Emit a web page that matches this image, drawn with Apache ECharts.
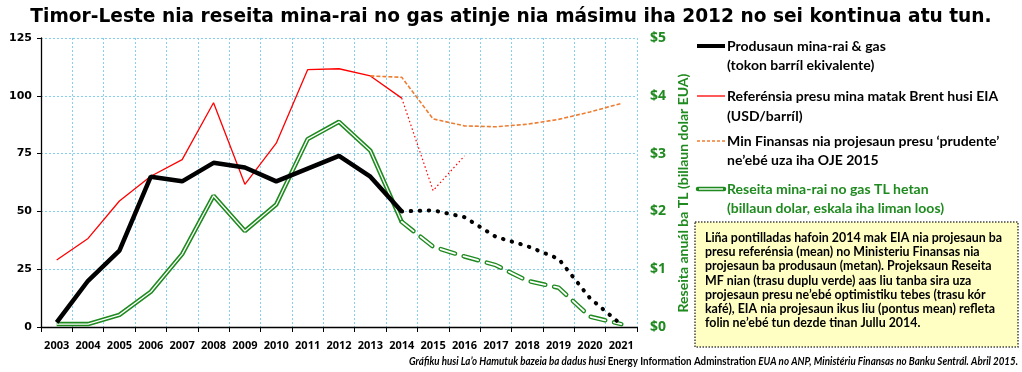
<!DOCTYPE html>
<html>
<head>
<meta charset="utf-8">
<script src="https://cdn.jsdelivr.net/npm/echarts@6/dist/echarts.min.js"></script>
<style>
html,body{margin:0;padding:0;background:#fff;}
#chart{width:1022px;height:372px;}
</style>
</head>
<body>
<div id="chart"></div>
<script>
const years = ['2003','2004','2005','2006','2007','2008','2009','2010','2011','2012','2013','2014','2015','2016','2017','2018','2019','2020','2021'];
const leftTicks = [0,25,50,75,100,125];
const rightTicks = ['$0','$1','$2','$3','$4','$5'];
// Production (million barrels oil equivalent)
const prodHist = [2,20,33,65,63,71,69,63,68.5,74,65,50,null,null,null,null,null,null,null];
const prodProj = [null,null,null,null,null,null,null,null,null,null,null,50,50.5,47.5,39,35,29.5,12.5,1];
// Brent reference price (USD/barrel)
const brentHist = [29,38.3,54.5,65.2,72.4,97,61.7,79.5,111.3,111.7,108.6,99,null,null,null,null,null,null,null];
const brentProj = [null,null,null,null,null,null,null,null,null,null,null,99,59,74,null,null,null,null,null];
// Ministry of Finance 'prudent' price projection
const mofPrice = [null,null,null,null,null,null,null,null,null,null,108.6,108,90,87,86.6,87.7,89.8,93,96.7];
// Petroleum revenue (billion USD, right axis)
const revHist = [0.05,0.05,0.21,0.61,1.26,2.27,1.66,2.12,3.25,3.55,3.05,1.82,null,null,null,null,null,null,null];
const revProj = [null,null,null,null,null,null,null,null,null,null,null,1.82,1.39,1.22,1.07,0.80,0.68,0.18,0.05];

const legendLines = [
  ['Produsaun mina-rai & gas','(tokon barríl ekivalente)'],
  ['Referénsia presu mina matak Brent husi EIA','(USD/barríl)'],
  ['Min Finansas nia projesaun presu \u2018prudente\u2019','ne\u2019ebé uza iha OJE 2015'],
  ['Reseita mina-rai no gas TL hetan','(billaun dolar, eskala iha liman loos)']
];
const noteLines = [
  'Liña pontilladas hafoin 2014 mak EIA nia projesaun ba',
  'presu referénsia (mean) no Ministeriu Finansas nia',
  'projesaun ba produsaun (metan). Projeksaun Reseita',
  'MF nian (trasu duplu verde) aas liu tanba sira uza',
  'projesaun presu ne\u2019ebé optimistiku tebes (trasu kór',
  'kafé), EIA nia projesaun ikus liu (pontus mean) refleta',
  'folin ne\u2019ebé tun dezde tinan Jullu 2014.'
];
const titleText = 'Timor-Leste nia reseita mina-rai no gas atinje nia másimu iha 2012 no sei kontinua atu tun.';
const rightAxisName = 'Reseita anuál ba TL (billaun dolar EUA)';
const footParts = [
  ['i','Gráfiku husi La\u2019o Hamutuk bazeia ba dadus husi '],
  ['n','Energy Information Adminstration'],
  ['i',' EUA no ANP, Ministériu Finansas no Banku Sentrál. Abril 2015.']
];

const GREEN = '#1f8a1f';
const GRIDC = '#86cfee';
const chart = echarts.init(document.getElementById('chart'), null, {renderer:'canvas'});

// measure footnote to fit its width in the reference layout
const FOOT_I = 'italic bold 12px Lato';
const FOOT_N = 'bold 12px Lato';
const mctx = document.createElement('canvas').getContext('2d');
let footW = 0;
footParts.forEach(p => { mctx.font = p[0]==='i'?FOOT_I:FOOT_N; footW += mctx.measureText(p[1]).width; });
const footScale = 609 / footW;

const legendY = [[46,65],[96,116],[141,160],[189,208]];
const graphics = [];
graphics.push({type:'line', shape:{x1:697,y1:46,x2:725,y2:46}, style:{stroke:'#000', lineWidth:4}});
graphics.push({type:'line', shape:{x1:697,y1:96,x2:725,y2:96}, style:{stroke:'#ff0000', lineWidth:1.3}});
graphics.push({type:'line', shape:{x1:697,y1:141,x2:725,y2:141}, style:{stroke:'#ed7d31', lineWidth:1.6, lineDash:[3,2]}});
graphics.push({type:'line', shape:{x1:698,y1:189,x2:724,y2:189}, style:{stroke:GREEN, lineWidth:4.5, lineCap:'round'}});
graphics.push({type:'line', shape:{x1:699,y1:189,x2:723,y2:189}, style:{stroke:'#fff', lineWidth:1.4}});
legendLines.forEach((pair, i) => {
  pair.forEach((t, j) => {
    graphics.push({type:'text', x:727, y:legendY[i][j], style:{text:t, fill: i===3?GREEN:'#000', font:'bold 14px Lato', textVerticalAlign:'middle'}});
  });
});
// right axis title (rotated)
graphics.push({type:'text', x:683, y:193, rotation:Math.PI/2, style:{text:rightAxisName, fill:GREEN, font:'bold 14px Lato', align:'center', verticalAlign:'middle'}});
graphics.push({type:'rect', shape:{x:695,y:222,width:323,height:125}, style:{fill:'#ffffc4', stroke:'#444', lineWidth:1.5, lineDash:[1.5,1.5]}});
noteLines.forEach((t, i) => {
  graphics.push({type:'text', x:705, y:238 + i*14.2, style:{text:t, fill:'#000', font:'bold 12.4px Lato', textVerticalAlign:'middle'}});
});
graphics.push({type:'text', x:1018, y:361, scaleX:footScale, style:{
  text: footParts.map(p => '{' + p[0] + '|' + p[1] + '}').join(''),
  align:'right', verticalAlign:'middle',
  rich:{
    i:{fontStyle:'italic', fontWeight:'bold', fontSize:12, fontFamily:'Lato', fill:'#000'},
    n:{fontStyle:'normal', fontWeight:'bold', fontSize:12, fontFamily:'Lato', fill:'#000'}
  }
}});

const option = {
  animation:false,
  backgroundColor:'#fff',
  title:{text:titleText, left:'center', top:3, textStyle:{fontFamily:'DejaVu Sans', fontWeight:'bold', fontSize:18.6, color:'#000'}},
  grid:{left:41, right:385, top:38, bottom:45, containLabel:false},
  xAxis:{type:'category', data:years, boundaryGap:true,
    axisLine:{lineStyle:{color:'#000', width:1.3}},
    axisTick:{show:true, interval:0, length:5, lineStyle:{color:'#000'}},
    axisLabel:{interval:0, margin:13, fontFamily:'Open Sans', fontWeight:'bold', fontSize:11, color:'#000'},
    splitLine:{show:true, interval:0, lineStyle:{color:GRIDC, type:[2,2], width:1}}
  },
  yAxis:[
    {type:'value', min:0, max:125, interval:25, position:'left',
      axisLine:{show:true, lineStyle:{color:'#000', width:1.3}},
      axisTick:{show:true, length:4, lineStyle:{color:'#000'}},
      axisLabel:{margin:9, fontFamily:'DejaVu Sans', fontWeight:'bold', fontSize:11, color:'#000',
        formatter:(v)=> leftTicks.indexOf(v)>=0 ? String(v) : ''},
      splitLine:{show:true, lineStyle:{color:GRIDC, type:[2,2], width:1}}
    },
    {type:'value', min:0, max:5, interval:1, position:'right',
      axisLine:{show:false}, axisTick:{show:false},
      axisLabel:{margin:13, fontFamily:'Open Sans', fontWeight:'bold', fontSize:14, color:GREEN,
        formatter:(v)=> rightTicks[Math.round(v)]},
      splitLine:{show:false}
    }
  ],
  series:[
    {name:'brentHist', type:'line', data:brentHist, yAxisIndex:0, symbol:'none', lineStyle:{color:'#ff0000', width:1.3}, z:3},
    {name:'brentProj', type:'line', data:brentProj, yAxisIndex:0, symbol:'none', lineStyle:{color:'#ff0000', width:1.2, type:[1.5,2.5]}, z:3},
    {name:'mofPrice', type:'line', data:mofPrice, yAxisIndex:0, symbol:'none', lineStyle:{color:'#ed7d31', width:1.6, type:[4,2]}, z:3},
    {name:'revHistG', type:'line', data:revHist, yAxisIndex:1, symbol:'none', lineStyle:{color:GREEN, width:4.5}, z:4},
    {name:'revHistW', type:'line', data:revHist, yAxisIndex:1, symbol:'none', lineStyle:{color:'#fff', width:1.3}, z:4},
    {name:'revProjG', type:'line', data:revProj, yAxisIndex:1, symbol:'none', lineStyle:{color:GREEN, width:4.5, type:[15,9], cap:'round'}, z:4},
    {name:'revProjW', type:'line', data:revProj, yAxisIndex:1, symbol:'none', lineStyle:{color:'#fff', width:1.8, type:[15,9], cap:'round'}, z:4},
    {name:'prodHist', type:'line', data:prodHist, yAxisIndex:0, symbol:'none', lineStyle:{color:'#000', width:4.5}, z:5},
    {name:'prodProj', type:'line', data:prodProj, yAxisIndex:0, symbol:'none', lineStyle:{color:'#000', width:4, type:[0.5,8.5], cap:'round'}, z:5}
  ],
  graphic:graphics
};
chart.setOption(option);
</script>
</body>
</html>
